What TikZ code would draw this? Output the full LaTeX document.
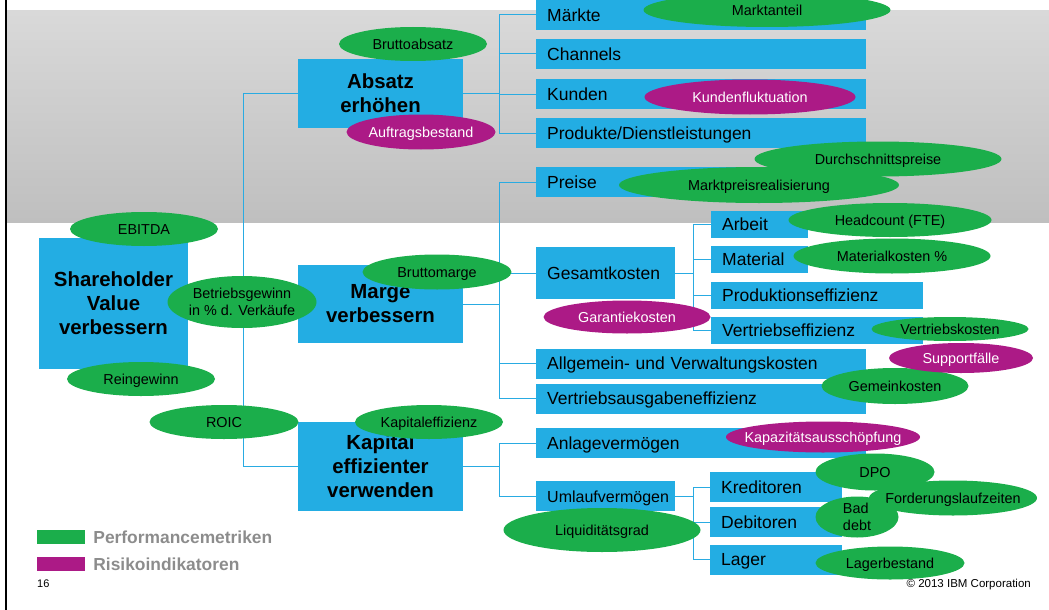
\documentclass[tikz,border=0pt]{standalone}
\usepackage{fontspec}
\setmainfont{Liberation Sans}
\usetikzlibrary{shapes.geometric,positioning}
\definecolor{boxblue}{RGB}{35,173,227}
\definecolor{linkblue}{RGB}{41,171,226}
\definecolor{kpigreen}{RGB}{27,174,75}
\definecolor{riskpurple}{RGB}{172,26,134}
\definecolor{legendgray}{RGB}{140,140,140}
\definecolor{bandtop}{RGB}{217,217,217}
\definecolor{bandbot}{RGB}{191,191,191}
\tikzset{
  goal/.style={fill=boxblue,font=\fontsize{20.4}{24}\selectfont\bfseries,align=center,inner sep=0pt},
  lever/.style={fill=boxblue,font=\fontsize{17.5}{20}\selectfont,anchor=west,align=left,
    inner xsep=11pt,inner ysep=0pt,text width=#1,text height=12.5pt,text depth=0pt,minimum height=30pt},
  lever/.default=308pt,
  kpi/.style={ellipse,fill=kpigreen,font=\fontsize{14.4}{17}\selectfont,inner xsep=-12pt,inner ysep=0pt,align=center},
  risk/.style={kpi,fill=riskpurple,text=white},
  link/.style={draw=linkblue,line width=1pt},
  legendtext/.style={font=\fontsize{17.4}{20}\selectfont\bfseries,text=legendgray,inner sep=0pt}
}
\begin{document}
\begin{tikzpicture}[x=1pt,y=-1pt]
\useasboundingbox (0,0) rectangle (1049,610);
\shade[top color=bandtop,bottom color=bandbot] (7,11) rectangle (1049,222);
\draw[line width=1.5pt] (6,0) -- (6,610);
\node[goal,minimum width=149pt,minimum height=131pt] (shv) at (113.5,303.5) {Shareholder\\Value\\verbessern};
\node[goal,minimum width=165pt,minimum height=69pt] (absatz) at (380.5,93.5) {Absatz\\erhöhen};
\node[goal,minimum width=165pt,minimum height=78pt] (marge) at (380.5,304) {Marge\\verbessern};
\node[goal,minimum width=165pt,minimum height=89pt] (kapital) at (380.5,466.5) {Kapital\\effizienter\\verwenden};
\foreach \n/\t/\y in {maerkte/Märkte/15,channels/Channels/54,kunden/Kunden/94,
  produkte/{Produkte/Dienstleistungen}/133,preise/Preise/182,allg/Allgemein- und Verwaltungskosten/363.5,
  vertrausg/Vertriebsausgabeneffizienz/398.5,anlage/Anlagevermögen/443}
  \node[lever] (\n) at (536,\y) {\t};
\node[lever=117pt,minimum height=52pt] (gesamt) at (536,273) {Gesamtkosten};
\node[lever=117pt,font=\fontsize{16}{19}\selectfont] (umlauf) at (536,496) {Umlaufvermögen};
\foreach \n/\t/\w/\y in {arbeit/Arbeit/75/224.5,material/Material/75/259.5,
  prod/Produktionseffizienz/190/295.5,vertr/Vertriebseffizienz/190/330.5}
  \node[lever=\w pt,minimum height=27pt] (\n) at (711,\y) {\t};
\foreach \n/\t/\y in {kred/Kreditoren/487,debit/Debitoren/522,lager/Lager/559.5}
  \node[lever=110pt] (\n) at (710,\y) {\t};
\coordinate (trunk) at (243,303.5);
\coordinate (busA) at (499,93.5);
\coordinate (busM) at (499,304);
\coordinate (busK) at (499,466.5);
\coordinate (busG) at (693,273);
\coordinate (busU) at (693,496);
\draw[link] (shv.east) -- (trunk) (trunk) |- (absatz.west) (trunk) |- (marge.west) (trunk) |- (kapital.west);
\draw[link] (absatz.east) -- (busA) (marge.east) -- (busM) (kapital.east) -- (busK)
  (gesamt.east) -- (busG) (umlauf.east) -- (busU);
\foreach \n in {maerkte,channels,kunden,produkte} \draw[link] (busA) |- (\n.west);
\foreach \n in {preise,gesamt,allg,vertrausg} \draw[link] (busM) |- (\n.west);
\foreach \n in {anlage,umlauf} \draw[link] (busK) |- (\n.west);
\foreach \n in {arbeit,material,prod,vertr} \draw[link] (busG) |- (\n.west);
\foreach \n in {kred,debit,lager} \draw[link] (busU) |- (\n.west);
\foreach \n/\t/\x/\y/\w/\h in {ebitda/EBITDA/144/229/148/34,reingewinn/Reingewinn/141/379/148/34,
  roic/ROIC/224/422/149/34,bruttoabsatz/Bruttoabsatz/413/44/148/34,bruttomarge/Bruttomarge/437/272/149/35,
  kapeff/Kapitaleffizienz/429/422/148/34,marktanteil/Marktanteil/767/10/247/34,
  durchschn/Durchschnittspreise/878/159/247/35,marktpreis/Marktpreisrealisierung/759/185/280/36,
  headcount/Headcount (FTE)/890/220/203/34,matkosten/Materialkosten \%/892/256/197/35,
  vertrkosten/Vertriebskosten/950/329/157/24,gemein/Gemeinkosten/895/386/147/36,
  dpo/DPO/875/472/119/37,forderung/Forderungslaufzeiten/953/498/168/35,
  lagerbest/Lagerbestand/890/563/149/33,liquid/Liquiditätsgrad/602/530/197/44}
  \node[kpi,text height=10.3pt,text depth=0pt,minimum width=\w pt,minimum height=\h pt] (\n) at (\x,\y) {\t};
\foreach \n/\t/\x/\y/\w/\h in {auftrags/Auftragsbestand/421/132/149/35,kundenfl/Kundenfluktuation/750/97/211/35,
  garantie/Garantiekosten/627/317/167/33,support/Supportfälle/961/358/144/30,
  kapaz/Kapazitätsausschöpfung/823/437/194/31}
  \node[risk,text height=10.3pt,text depth=0pt,minimum width=\w pt,minimum height=\h pt] (\n) at (\x,\y) {\t};
\node[kpi,minimum width=149pt,minimum height=52pt] (betrieb) at (242,302) {Betriebsgewinn\\in \% d. Verkäufe};
\node[kpi,align=left,minimum width=83pt,minimum height=41pt] (baddebt) at (857,517) {Bad\\debt};
\node[fill=kpigreen,minimum width=48pt,minimum height=14pt,inner sep=0pt] (leggreen) at (61,537) {};
\node[fill=riskpurple,minimum width=48pt,minimum height=14pt,inner sep=0pt] (legpurple) at (61,564) {};
\node[legendtext,right=8pt of leggreen] (legperf) {Performancemetriken};
\node[legendtext,right=8pt of legpurple] (legrisk) {Risikoindikatoren};
\node[anchor=west,font=\fontsize{11}{13}\selectfont,inner sep=0pt] (pagenum) at (37,584) {16};
\node[anchor=east,font=\fontsize{11.5}{13}\selectfont,inner sep=0pt] (copyright) at (1031,585) {© 2013 IBM Corporation};
\end{tikzpicture}
\end{document}
